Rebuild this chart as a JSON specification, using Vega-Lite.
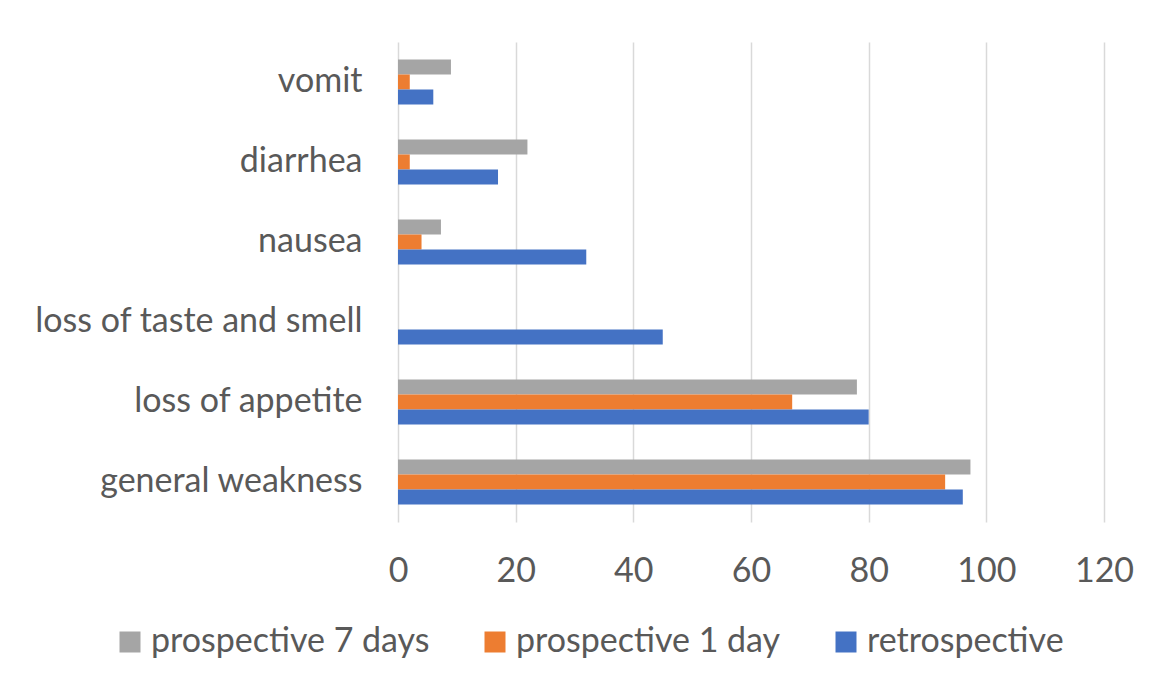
{
  "$schema": "https://vega.github.io/schema/vega-lite/v6.json",
  "autosize": {"type": "none"},
  "padding": {"left": 398, "top": 42, "right": 51, "bottom": 155},
  "width": 706,
  "height": 480,
  "background": "white",
  "config": {
    "font": "Lato",
    "view": {"stroke": null},
    "axis": {"labelFont": "Lato", "labelColor": "#595959", "labelFontSize": 34, "ticks": false, "domain": false, "grid": false, "labelLimit": 0},
    "legend": {"labelFont": "Lato", "labelColor": "#595959", "labelFontSize": 34, "labelLimit": 0}
  },
  "data": {
    "values": [
      {"symptom": "vomit", "series": "prospective 7 days", "value": 9},
      {"symptom": "vomit", "series": "prospective 1 day", "value": 2},
      {"symptom": "vomit", "series": "retrospective", "value": 6},
      {"symptom": "diarrhea", "series": "prospective 7 days", "value": 22},
      {"symptom": "diarrhea", "series": "prospective 1 day", "value": 2},
      {"symptom": "diarrhea", "series": "retrospective", "value": 17},
      {"symptom": "nausea", "series": "prospective 7 days", "value": 7.3},
      {"symptom": "nausea", "series": "prospective 1 day", "value": 4},
      {"symptom": "nausea", "series": "retrospective", "value": 32},
      {"symptom": "loss of taste and smell", "series": "prospective 7 days", "value": 0},
      {"symptom": "loss of taste and smell", "series": "prospective 1 day", "value": 0},
      {"symptom": "loss of taste and smell", "series": "retrospective", "value": 45},
      {"symptom": "loss of appetite", "series": "prospective 7 days", "value": 78},
      {"symptom": "loss of appetite", "series": "prospective 1 day", "value": 67},
      {"symptom": "loss of appetite", "series": "retrospective", "value": 80},
      {"symptom": "general weakness", "series": "prospective 7 days", "value": 97.3},
      {"symptom": "general weakness", "series": "prospective 1 day", "value": 93},
      {"symptom": "general weakness", "series": "retrospective", "value": 96}
    ]
  },
  "mark": {"type": "bar"},
  "encoding": {
    "y": {
      "field": "symptom", "type": "nominal",
      "sort": ["vomit", "diarrhea", "nausea", "loss of taste and smell", "loss of appetite", "general weakness"],
      "scale": {"paddingInner": 0.4375, "paddingOuter": 0.21875},
      "axis": {"title": null, "labelPadding": 36}
    },
    "yOffset": {
      "field": "series", "type": "nominal",
      "sort": ["prospective 7 days", "prospective 1 day", "retrospective"],
      "scale": {"paddingInner": 0, "paddingOuter": 0}
    },
    "x": {
      "field": "value", "type": "quantitative",
      "scale": {"domain": [0, 120], "nice": false},
      "axis": {"title": null, "values": [0, 20, 40, 60, 80, 100, 120], "grid": true, "gridColor": "#D9D9D9", "gridWidth": 1.5, "labelPadding": 32, "labelFlush": false}
    },
    "color": {
      "field": "series", "type": "nominal",
      "sort": ["prospective 7 days", "prospective 1 day", "retrospective"],
      "scale": {"domain": ["prospective 7 days", "prospective 1 day", "retrospective"], "range": ["#A5A5A5", "#ED7D31", "#4472C4"]},
      "legend": {"title": null, "orient": "none", "legendX": -285, "legendY": 583, "padding": 0, "direction": "horizontal", "symbolType": "square", "symbolSize": 441, "symbolStrokeWidth": 0, "columnPadding": 48, "labelOffset": 4}
    }
  }
}
